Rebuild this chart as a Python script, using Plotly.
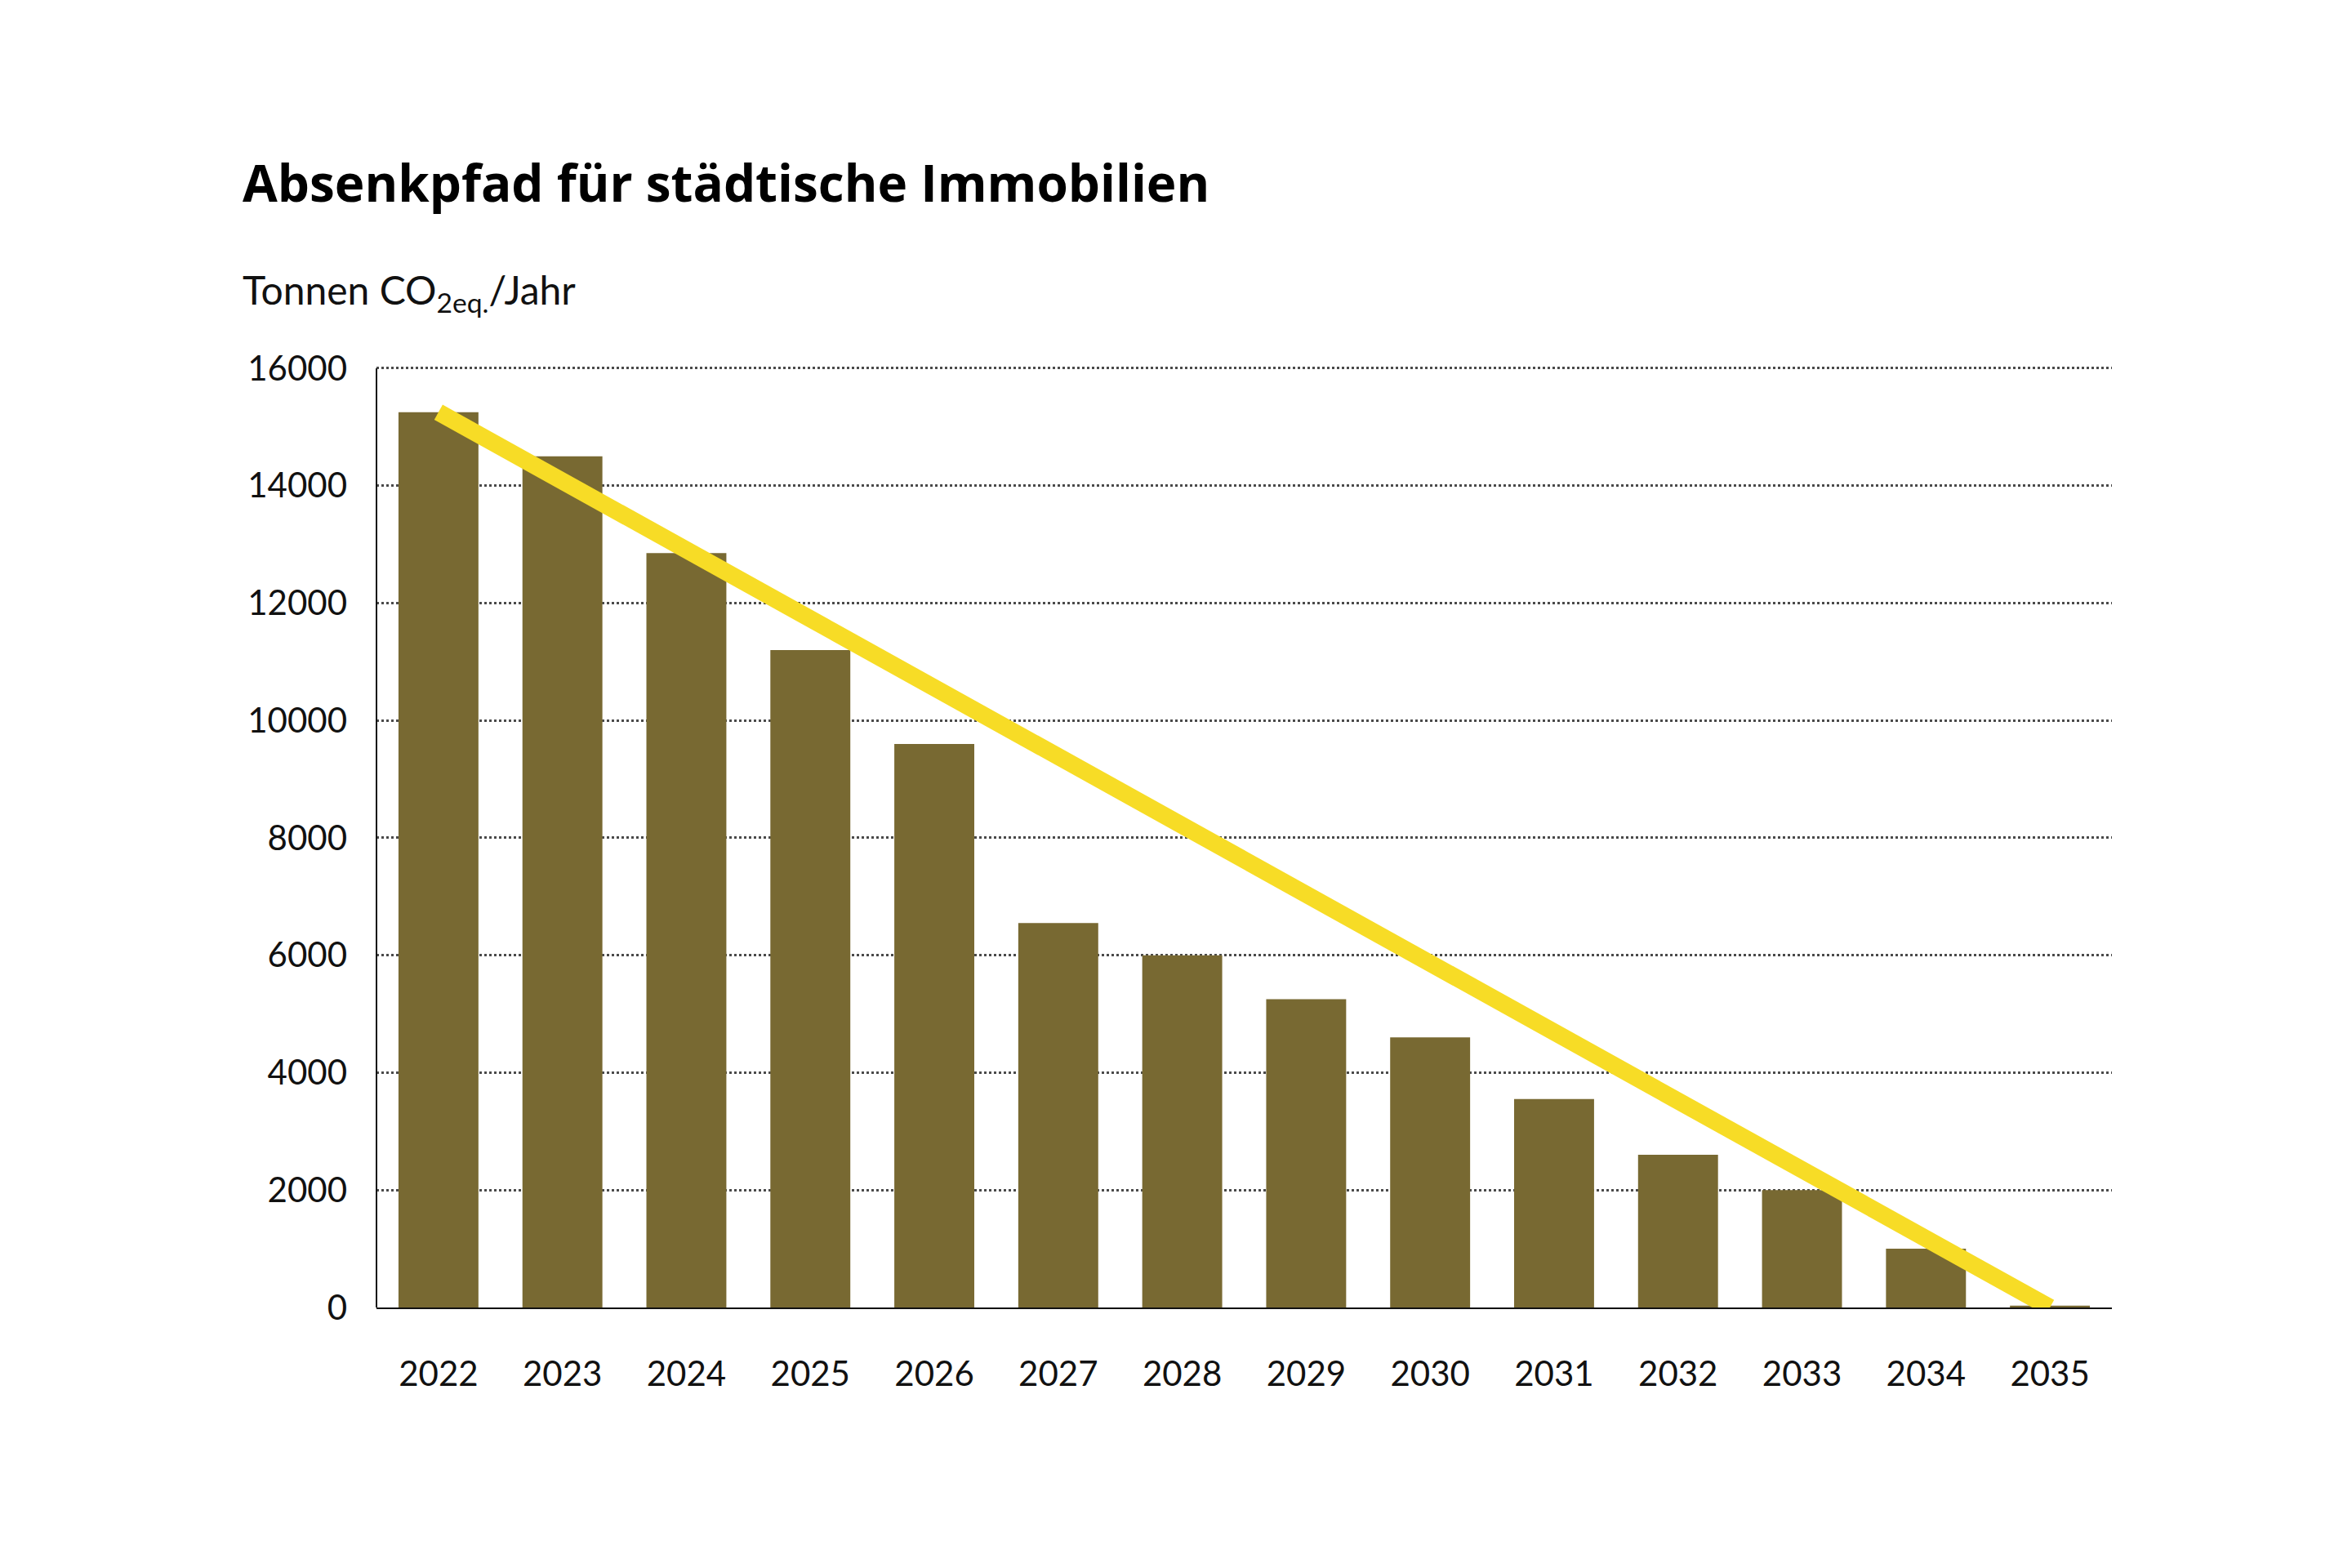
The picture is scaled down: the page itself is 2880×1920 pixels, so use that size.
import plotly.graph_objects as go

# Data
years = [str(y) for y in range(2022, 2036)]
emissions = [15250, 14500, 12850, 11200, 9600, 6550, 6000, 5250, 4600, 3550, 2600, 2000, 1000, 30]
path_years = ["2022", "2035"]
path_values = [15250, 0]
y_ticks = [0, 2000, 4000, 6000, 8000, 10000, 12000, 14000, 16000]

BAR_COLOR = "#786932"
PATH_COLOR = "#F7DC26"
FONT = "Lato"

fig = go.Figure()

# Bars for emissions per year
fig.add_trace(go.Bar(
    x=years,
    y=emissions,
    marker=dict(color=BAR_COLOR, line=dict(width=0)),
    hoverinfo="x+y",
))

# Reduction path
fig.add_trace(go.Scatter(
    x=path_years,
    y=path_values,
    mode="lines",
    line=dict(color=PATH_COLOR, width=21),
    hoverinfo="skip",
))

fig.update_layout(
    width=2880,
    height=1920,
    margin=dict(l=453, r=302, t=440, b=327),
    paper_bgcolor="white",
    plot_bgcolor="white",
    showlegend=False,
    bargap=0.355,
    font=dict(family=FONT, size=42, color="#111111"),
    xaxis=dict(
        type="category",
        range=[-0.5, 13.5],
        showgrid=False,
        showline=True,
        linecolor="#111111",
        linewidth=2,
        ticks="",
        ticklabelstandoff=44,
        tickfont=dict(size=42),
    ),
    yaxis=dict(
        range=[0, 16040],
        tickvals=y_ticks,
        ticktext=[str(v) for v in y_ticks],
        showgrid=True,
        gridcolor="#4a4a4a",
        gridwidth=2.5,
        griddash="dot",
        showline=False,
        zeroline=False,
        ticks="",
        ticklabelstandoff=35,
        tickfont=dict(size=42),
    ),
    shapes=[
        # vertical axis line from 0 to 16000
        dict(type="line", xref="paper", yref="y",
             x0=0, x1=0, y0=0, y1=16000,
             line=dict(color="#111111", width=2)),
    ],
    annotations=[
        dict(
            text="<b>Absenkpfad für städtische Immobilien</b>",
            xref="paper", yref="paper",
            x=-0.078, y=1.195,
            xanchor="left", yanchor="middle",
            showarrow=False,
            font=dict(family="Open Sans", size=62, color="#000000", weight=800),
        ),
        dict(
            text="Tonnen CO<sub>2eq.</sub>/Jahr",
            xref="paper", yref="paper",
            x=-0.078, y=1.078,
            xanchor="left", yanchor="middle",
            showarrow=False,
            font=dict(family=FONT, size=48, color="#111111"),
        ),
    ],
)

fig.write_html("out.html")
